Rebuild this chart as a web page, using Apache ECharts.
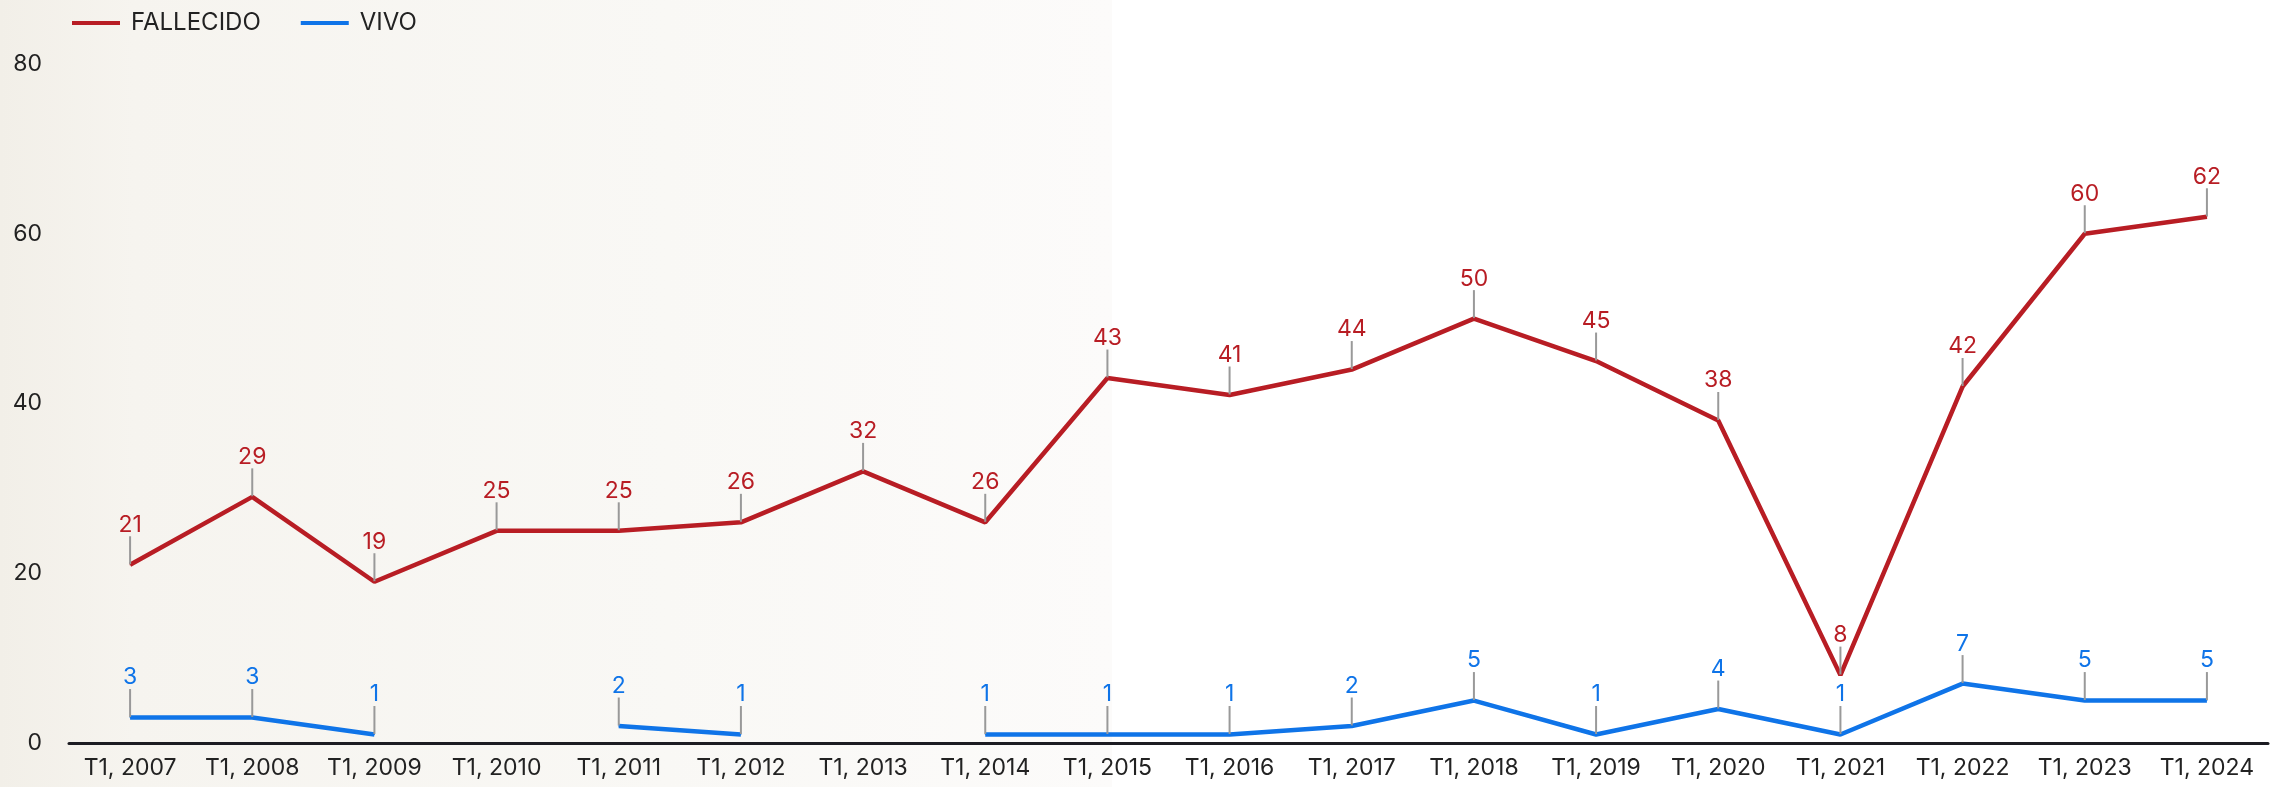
<!DOCTYPE html>
<html>
<head>
<meta charset="utf-8">
<script src="https://cdn.jsdelivr.net/npm/echarts@6/dist/echarts.min.js"></script>
<style>
html,body{margin:0;padding:0;background:#fff;}
#main{width:2281px;height:787px;}
</style>
</head>
<body>
<div id="main"></div>
<script>
var categories = ['T1, 2007','T1, 2008','T1, 2009','T1, 2010','T1, 2011','T1, 2012','T1, 2013','T1, 2014','T1, 2015',
    'T1, 2016','T1, 2017','T1, 2018','T1, 2019','T1, 2020','T1, 2021','T1, 2022','T1, 2023','T1, 2024'];
var fallecido = [21,29,19,25,25,26,32,26,43,41,44,50,45,38,8,42,60,62];
var vivo = [3,3,1,null,2,1,null,1,1,1,2,5,1,4,1,7,5,5];
var yTicks = [0,20,40,60,80];

var FONT = 'Inter';
var RED = '#b81d24', BLUE = '#0f74e8';

function lineSeries(name, data, color) {
    return {
        name: name,
        type: 'line',
        data: data,
        symbol: 'circle',
        symbolSize: 1,
        showSymbol: true,
        connectNulls: false,
        lineStyle: {color: color, width: 4.5},
        itemStyle: {color: color},
        label: {
            show: true,
            position: 'top',
            distance: 0,
            color: color,
            fontFamily: FONT,
            fontSize: 23
        },
        labelLayout: {dy: -28},
        labelLine: {show: true, lineStyle: {color: '#999', width: 2}},
        emphasis: {disabled: true}
    };
}

var chart = echarts.init(document.getElementById('main'));
chart.setOption({
    animation: false,
    backgroundColor: '#fff',
    graphic: [{
        type: 'rect',
        z: -10,
        silent: true,
        shape: {x: 0, y: 0, width: 1112, height: 787},
        style: {
            fill: new echarts.graphic.LinearGradient(0, 0, 1, 0, [
                {offset: 0, color: '#f2efe8'},
                {offset: 0.12, color: '#f6f4ef'},
                {offset: 0.6, color: '#f9f8f5'},
                {offset: 1, color: '#fcfbfa'}
            ])
        }
    }],
    legend: {
        left: 67,
        top: 6,
        itemWidth: 48,
        itemHeight: 4,
        itemGap: 40,
        icon: 'rect',
        textStyle: {fontFamily: FONT, fontSize: 24, color: '#222', padding: [0, 0, 0, 6]},
        data: ['FALLECIDO', 'VIVO']
    },
    grid: {left: 69, right: 13, top: 64, bottom: 44, containLabel: false},
    xAxis: {
        type: 'category',
        data: categories,
        boundaryGap: true,
        axisLine: {lineStyle: {color: '#1c1c22', width: 3}},
        axisTick: {show: false},
        axisLabel: {fontFamily: FONT, fontSize: 23, color: '#222', margin: 14, interval: 0}
    },
    yAxis: {
        type: 'value',
        min: yTicks[0],
        max: yTicks[yTicks.length - 1],
        interval: 20,
        splitLine: {show: false},
        axisLine: {show: false},
        axisTick: {show: false},
        axisLabel: {fontFamily: FONT, fontSize: 23, color: '#222', margin: 27}
    },
    series: [
        lineSeries('FALLECIDO', fallecido, RED),
        lineSeries('VIVO', vivo, BLUE)
    ]
});
</script>
</body>
</html>
